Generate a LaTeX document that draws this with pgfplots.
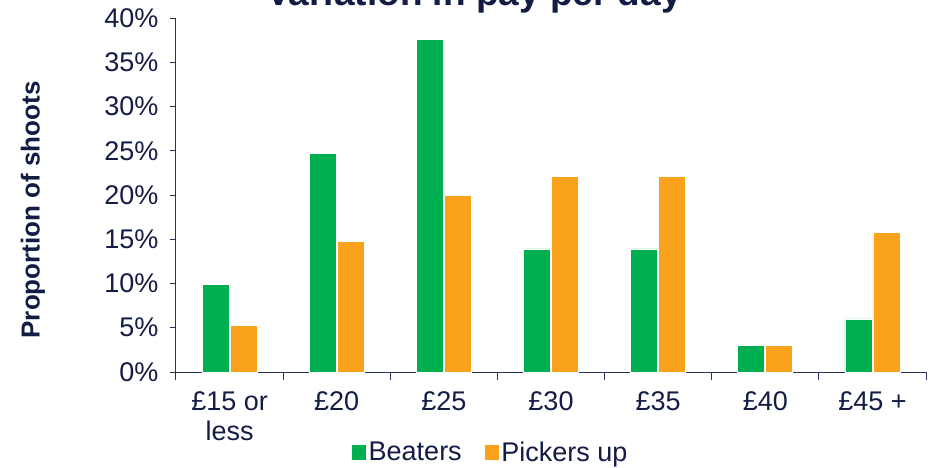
\documentclass[border=0pt]{standalone}
\usepackage{pgfplots}
\pgfplotsset{compat=1.18}
\usepackage{fontspec}
\setmainfont{Liberation Sans}
\definecolor{navy}{RGB}{18,28,68}
\definecolor{axisnavy}{RGB}{40,52,92}
\definecolor{bgreen}{RGB}{0,176,80}
\definecolor{borange}{RGB}{250,162,27}
\begin{document}
\begin{tikzpicture}[x=1pt,y=1pt]
\path[use as bounding box] (0,0) rectangle (938,467);
\node[anchor=base, font=\fontsize{37}{40}\selectfont\bfseries, text=navy, inner sep=0] at (474,461) {Variation in pay per day};
\begin{axis}[
  at={(176pt,95pt)}, anchor=south west,
  width=750pt, height=354pt, scale only axis,
  ybar=1pt, bar width=27pt,
  xmin=-0.5, xmax=6.5, ymin=0, ymax=40,
  axis lines*=left,
  axis line style={axisnavy, line width=1pt},
  tick align=outside,
  xtick={0,1,2,3,4,5,6},
  xticklabels={{£15 or\\less},£20,£25,£30,£35,£40,£45 +},
  minor xtick={-0.5,0.5,1.5,2.5,3.5,4.5,5.5,6.5},
  major x tick style={draw=none},
  minor x tick style={axisnavy, line width=1pt},
  minor tick length=8pt,
  major tick length=6pt,
  ytick={0,5,10,15,20,25,30,35,40},
  yticklabels={0\%,5\%,10\%,15\%,20\%,25\%,30\%,35\%,40\%},
  ytick style={axisnavy, line width=1pt},
  xticklabel style={align=center, font=\fontsize{27}{30}\selectfont, text=navy, yshift=-10pt},
  yticklabel style={font=\fontsize{27}{30}\selectfont, text=navy, xshift=-8pt},
  ylabel={Proportion of shoots},
  ylabel style={at={(axis description cs:-0.1907,0.458)}, anchor=center, font=\fontsize{26}{30}\selectfont\bfseries, text=navy},
  legend style={at={(0.419,-0.226)}, anchor=center, draw=none, legend columns=2, font=\fontsize{27}{30}\selectfont, text=navy, /tikz/every even column/.append style={column sep=20pt}},
  legend image code/.code={\fill[#1] (0pt,-8pt) rectangle (15pt,8pt);},
]
\addplot[fill=bgreen, draw=white, line width=0.6pt] coordinates {(0,9.9) (1,24.7) (2,37.6) (3,13.9) (4,13.9) (5,3.05) (6,6.0)};
\addplot[fill=borange, draw=white, line width=0.6pt] coordinates {(0,5.3) (1,14.8) (2,20.0) (3,22.1) (4,22.1) (5,3.05) (6,15.8)};
\legend{Beaters,Pickers up}
\end{axis}
\end{tikzpicture}
\end{document}
